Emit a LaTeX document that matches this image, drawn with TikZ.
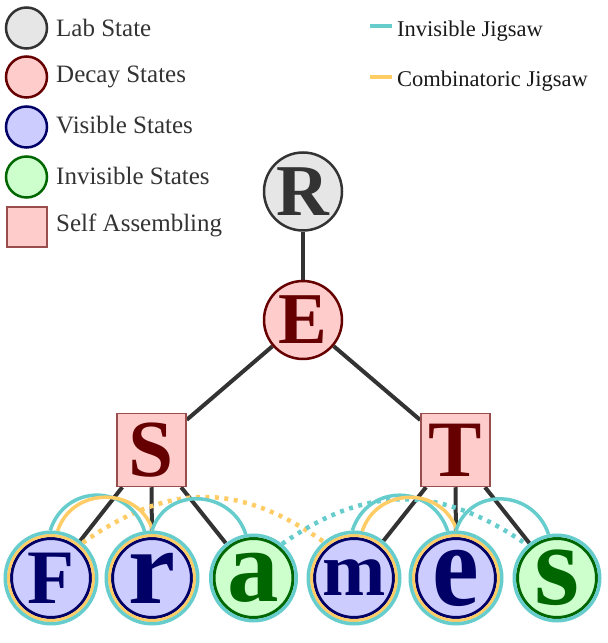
\documentclass[tikz,border=0pt]{standalone}
\usepackage{fontspec}
\setmainfont{Liberation Serif}
\definecolor{labfill}{HTML}{E6E6E6}
\definecolor{labdraw}{HTML}{333333}
\definecolor{decfill}{HTML}{FFCCCC}
\definecolor{decdraw}{HTML}{660000}
\definecolor{visfill}{HTML}{CCCCFF}
\definecolor{visdraw}{HTML}{000066}
\definecolor{invfill}{HTML}{CCFFCC}
\definecolor{invdraw}{HTML}{006600}
\definecolor{jcyan}{HTML}{66CCCC}
\definecolor{jyellow}{HTML}{FFCC66}
\definecolor{boxdraw}{HTML}{994D4D}
\definecolor{edgecol}{HTML}{333333}
\pgfdeclarelayer{bg}
\pgfsetlayers{bg,main}
\newcommand\BigFont[1]{\fontsize{#1}{#1}\selectfont\bfseries}
\begin{document}
\begin{tikzpicture}[x=1pt,y=1pt,
  lab/.style={circle, fill=labfill, draw=labdraw, line width=2.5pt, inner sep=0pt, minimum size=78pt, text=labdraw},
  decay/.style={circle, fill=decfill, draw=decdraw, line width=2.5pt, inner sep=0pt, minimum size=78pt, text=decdraw},
  selfbox/.style={rectangle, fill=decfill, draw=boxdraw, line width=1.5pt, inner sep=0pt, minimum width=69pt, minimum height=73pt, text=decdraw},
  vis/.style={circle, fill=visfill, draw=visdraw, line width=3pt, inner sep=0pt, minimum size=79pt, text=visdraw},
  inv/.style={circle, fill=invfill, draw=invdraw, line width=3pt, inner sep=0pt, minimum size=79pt, text=invdraw},
  yring/.style={circle, draw=jyellow, line width=3pt, inner sep=0pt, minimum size=85pt},
  cring/.style={circle, draw=jcyan, line width=3.5pt, inner sep=0pt, minimum size=91.5pt},
  cringinv/.style={circle, draw=jcyan, line width=3.5pt, inner sep=0pt, minimum size=85.5pt},
  edgeline/.style={draw=edgecol, line width=4pt},
  cyanarc/.style={draw=jcyan, line width=3.5pt},
  yellowarc/.style={draw=jyellow, line width=3.5pt},
  cyandot/.style={draw=jcyan, line width=4.5pt, dash pattern=on 4pt off 5.5pt},
  yellowdot/.style={draw=jyellow, line width=4.5pt, dash pattern=on 4pt off 5.5pt},
  legtext/.style={anchor=base west, inner sep=0pt, text=labdraw, font=\fontsize{25}{25}\selectfont},
  legtextr/.style={anchor=base west, inner sep=0pt, text=black!90, font=\fontsize{22.5}{22.5}\selectfont},
]
\useasboundingbox (0,0) rectangle (608,643);

% legend left
\node[lab, minimum size=41pt] (L1) at (26.5,615) {};
\node[decay, minimum size=41pt] (L2) at (26.5,566) {};
\node[vis, minimum size=41pt, line width=2.5pt] (L3) at (26.5,516) {};
\node[inv, minimum size=41pt, line width=2.5pt] (L4) at (26.5,466) {};
\node[selfbox, minimum width=40pt, minimum height=40pt] (L5) at (27,416) {};
\node[legtext] (T1) at (56,606) {Lab State};
\node[legtext] (T2) at (56,560) {Decay States};
\node[legtext] (T3) at (56,509) {Visible States};
\node[legtext] (T4) at (56,458) {Invisible States};
\node[legtext] (T5) at (56,411) {Self Assembling};

% legend right
\coordinate (J1a) at (370,617);
\coordinate (J1b) at (392,617);
\coordinate (J2a) at (370,566);
\coordinate (J2b) at (392,566);
\draw[jcyan, line width=4.5pt] (J1a) -- (J1b);
\draw[jyellow, line width=4.5pt] (J2a) -- (J2b);
\node[legtextr] (T6) at (397,606) {Invisible Jigsaw};
\node[legtextr] (T7) at (397,556) {Combinatoric Jigsaw};

% tree
\node[lab, font=\BigFont{73}] (R) at (303,451.5) {R};
\node[decay, font=\BigFont{73}] (E) at (303,323) {E};
\node[selfbox, font=\BigFont{81}] (S) at (151.5,193) {S};
\node[selfbox, font=\BigFont{80}] (T) at (455.5,193) {T};

\node[vis, font=\BigFont{77}] (F) at (51,65) {F};
\node[yring] (Fy) at (F) {};
\node[cring] (Fc) at (F) {};
\node[vis, font=\BigFont{106}] (r) at (152,65) {r};
\node[yring] (ry) at (r) {};
\node[cring] (rc) at (r) {};
\node[inv, font=\BigFont{103}] (a) at (253.5,65) {a};
\node[cringinv] (ac) at (a) {};
\node[vis, font=\BigFont{76}] (m) at (354,65) {m};
\node[yring] (my) at (m) {};
\node[cring] (mc) at (m) {};
\node[vis, font=\BigFont{105}] (e) at (456,65) {\scalebox{1}[1.12]{e}};
\node[yring] (ey) at (e) {};
\node[cring] (ec) at (e) {};
\node[inv, font=\BigFont{116}] (s) at (557,65) {s};
\node[cringinv] (sc) at (s) {};

\begin{pgfonlayer}{bg}
\draw[edgeline] (R) -- (E);
\draw[edgeline] (E) -- (S);
\draw[edgeline] (E) -- (T);
\draw[edgeline] (S) -- (Fc);
\draw[edgeline] (S) -- (rc);
\draw[edgeline] (S) -- (ac);
\draw[edgeline] (T) -- (mc);
\draw[edgeline] (T) -- (ec);
\draw[edgeline] (T) -- (sc);
\end{pgfonlayer}

% jigsaw arcs
\draw[yellowdot] (Fc.48) .. controls +(35:105) and +(145:105) .. (mc.130);
\draw[cyandot] (ac.50) .. controls +(35:105) and +(145:105) .. (sc.132);
\draw[cyanarc] (Fc.91) .. controls +(72:50) and +(108:50) .. (rc.99);
\draw[yellowarc] (Fc.82) .. controls +(72:47) and +(108:47) .. (rc.89);
\draw[cyanarc] (rc.90) .. controls +(72:47) and +(108:47) .. (ac.100);
\draw[cyanarc] (mc.92) .. controls +(72:50) and +(108:50) .. (ec.100);
\draw[yellowarc] (mc.80) .. controls +(72:47) and +(108:47) .. (ec.89);
\draw[cyanarc] (ec.90) .. controls +(72:47) and +(108:47) .. (sc.101);
\end{tikzpicture}
\end{document}
